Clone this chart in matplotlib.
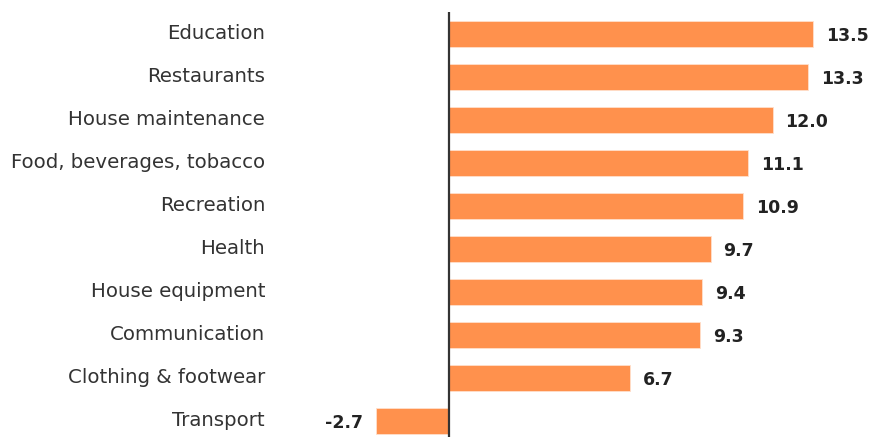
import matplotlib
matplotlib.use("Agg")
import matplotlib.pyplot as plt

categories = ["Education", "Restaurants", "House maintenance", "Food, beverages, tobacco",
              "Recreation", "Health", "House equipment", "Communication",
              "Clothing & footwear", "Transport"]
values = [13.5, 13.3, 12.0, 11.1, 10.9, 9.7, 9.4, 9.3, 6.7, -2.7]

W, H = 871, 437
fig = plt.figure(figsize=(W/100, H/100), dpi=100)
ax_l, ax_r, ax_t, ax_b = 300, 871, 12, 437
ax = fig.add_axes([ax_l/W, 1-ax_b/H, (ax_r-ax_l)/W, (ax_b-ax_t)/H])

ppu = 364/13.5
zero = 449
ax.set_xlim((ax_l-zero)/ppu, (ax_r-zero)/ppu)
sp = 43
c0 = 34
ax.set_ylim((ax_b-c0)/sp, (ax_t-c0)/sp)

color = "#FF914D"
ypos = list(range(len(categories)))
ax.barh(ypos, values, height=0.6, color=color, edgecolor="#FFE0CC", linewidth=0.6)
ax.axvline(0, color="#333333", lw=1.6)

off = 13/ppu
for y, v in zip(ypos, values):
    if v >= 0:
        ax.text(v+off, y+0.04, f"{v:.1f}", va="center", ha="left", fontsize=12.5,
                fontweight="bold", color="#222222")
    else:
        ax.text(v-off, y+0.04, f"{v:.1f}", va="center", ha="right", fontsize=12.5,
                fontweight="bold", color="#222222")

lab_x = (265-zero)/ppu
for y, c in zip(ypos, categories):
    ax.text(lab_x, y-0.02, c, va="center", ha="right", fontsize=14.2, color="#333333",
            clip_on=False)

for s in ax.spines.values():
    s.set_visible(False)
ax.set_xticks([])
ax.set_yticks([])
fig.savefig("out.png", dpi=100)
